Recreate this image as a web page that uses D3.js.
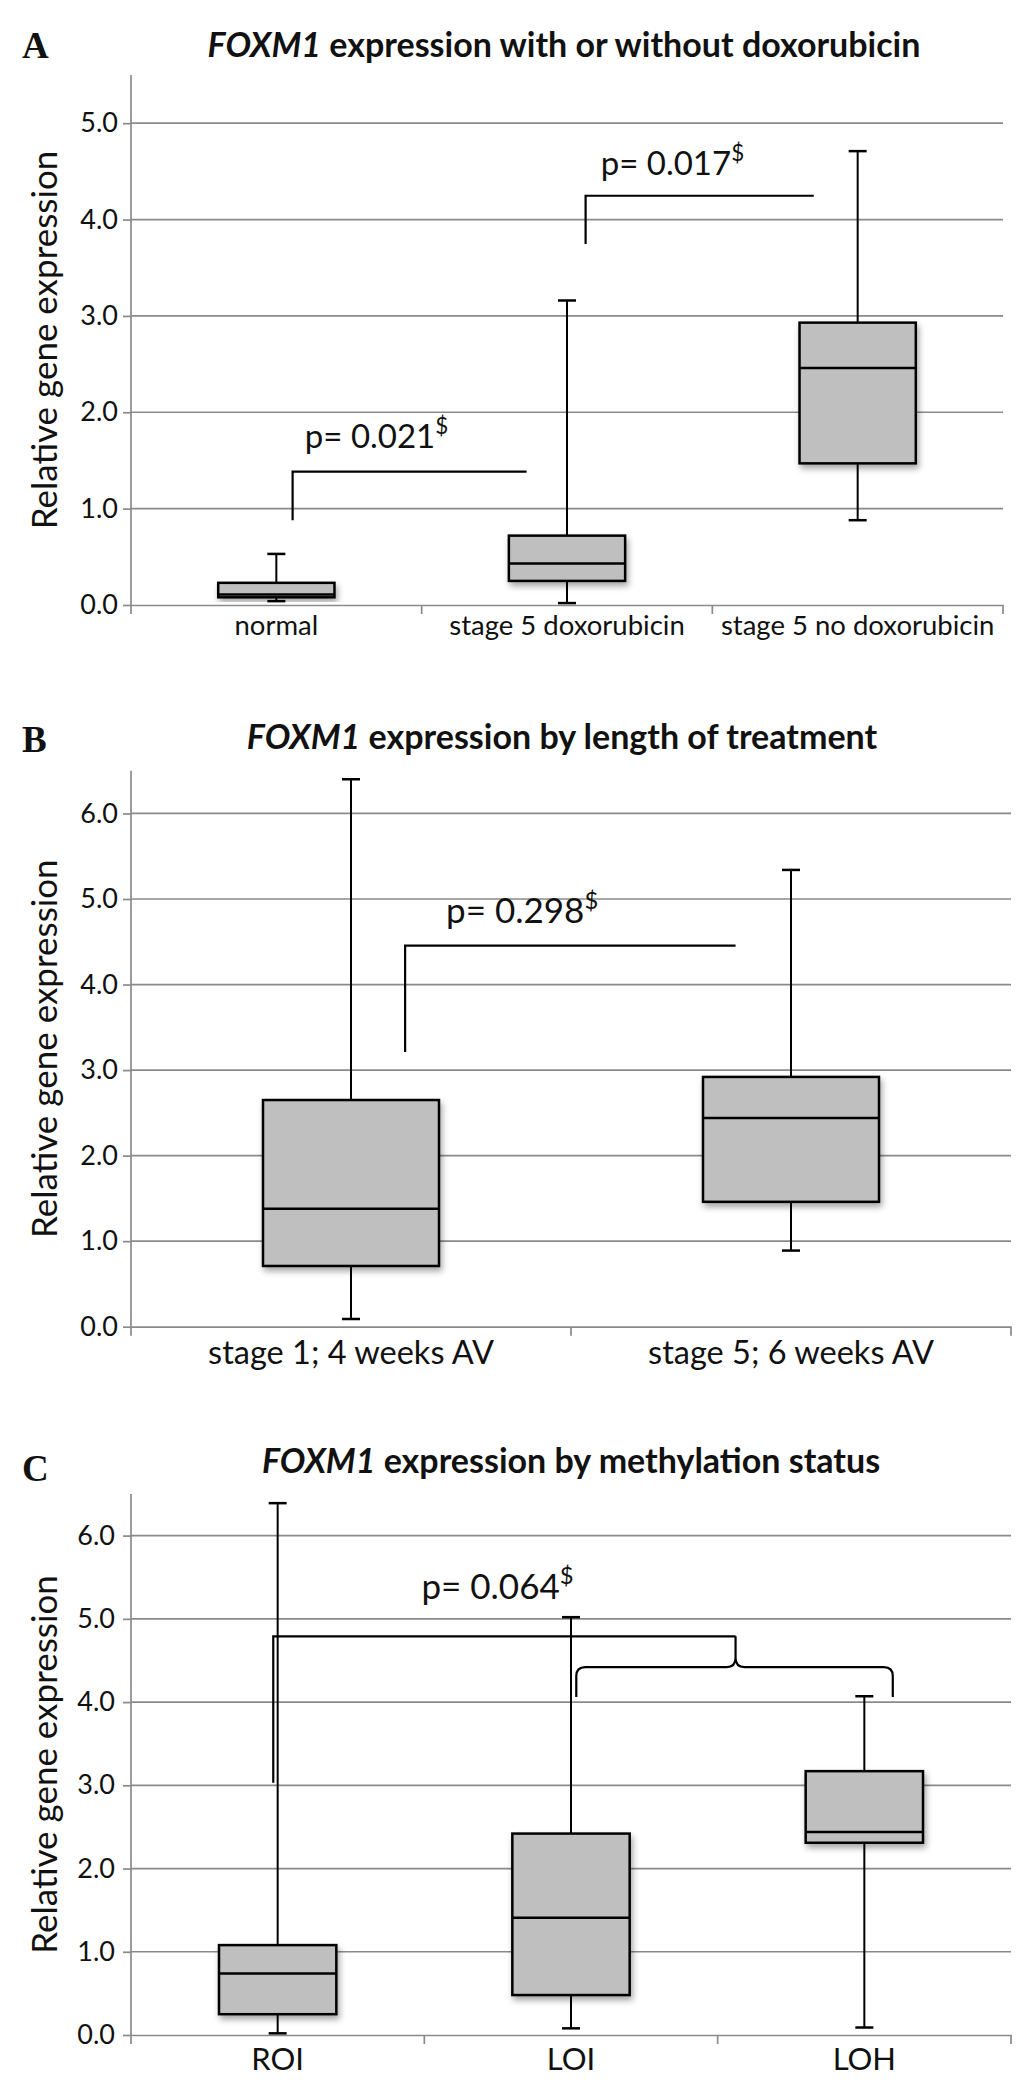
<!DOCTYPE html>
<html>
<head>
<meta charset="utf-8">
<script src="https://cdn.jsdelivr.net/npm/d3@7"></script>
<style>
  body { margin: 0; background: #fff; }
  svg { display: block; }
  text { font-family: Lato, "Open Sans", sans-serif; fill: #111; }
</style>
</head>
<body>
<svg id="chart" width="1033" height="2086"></svg>
<script>
// Panel A: with or without doxorubicin
const catsA = ["normal", "stage 5 doxorubicin", "stage 5 no doxorubicin"];
const minA = [0.04, 0.02, 0.88];
const q1A  = [0.08, 0.25, 1.47];
const medA = [0.11, 0.43, 2.46];
const q3A  = [0.23, 0.72, 2.93];
const maxA = [0.53, 3.16, 4.71];
const ticksA = [0, 1, 2, 3, 4, 5];

// Panel B: length of treatment
const catsB = ["stage 1; 4 weeks AV", "stage 5; 6 weeks AV"];
const minB = [0.09, 0.89];
const q1B  = [0.71, 1.46];
const medB = [1.38, 2.44];
const q3B  = [2.65, 2.92];
const maxB = [6.40, 5.34];
const ticksB = [0, 1, 2, 3, 4, 5, 6];

// Panel C: methylation status
const catsC = ["ROI", "LOI", "LOH"];
const minC = [0.02, 0.08, 0.09];
const q1C  = [0.25, 0.48, 2.31];
const medC = [0.74, 1.41, 2.44];
const q3C  = [1.08, 2.42, 3.17];
const maxC = [6.39, 5.02, 4.07];
const ticksC = [0, 1, 2, 3, 4, 5, 6];

// p-values
const pA = ["0.021", "0.017"];
const pB = ["0.298"];
const pC = ["0.064"];

const svg = d3.select("#chart");
const gridColor = "#8a8a8a";

// soft shadow under the boxes
svg.append("defs").append("filter")
    .attr("id", "shadow")
    .attr("x", "-20%").attr("y", "-20%")
    .attr("width", "150%").attr("height", "150%")
  .append("feDropShadow")
    .attr("dx", 2).attr("dy", 4)
    .attr("stdDeviation", 3)
    .attr("flood-color", "#000")
    .attr("flood-opacity", 0.35);

// Draws one box plot panel, returns scales for the annotations
function drawPanel(opt) {
  const g = svg.append("g");

  const x = d3.scaleBand()
      .domain(opt.cats)
      .range([opt.left, opt.right])
      .padding(0);

  // category units: 0..n across the plot
  const xu = d3.scaleLinear()
      .domain([0, opt.cats.length])
      .range([opt.left, opt.right]);

  const y = d3.scaleLinear()
      .domain([0, opt.ymax])
      .range([opt.bottom, opt.top]);

  // panel letter
  g.append("text")
      .attr("x", 22)
      .attr("y", opt.letterY)
      .style("font-family", "'Liberation Serif', 'Times New Roman', serif")
      .style("font-weight", "bold")
      .style("font-size", "37px")
      .text(opt.letter);

  // title
  const t = g.append("text")
      .attr("x", opt.titleX)
      .attr("y", opt.titleY)
      .attr("text-anchor", "middle")
      .style("font-weight", "bold")
      .style("font-size", "34px");
  t.append("tspan").style("font-style", "italic").text("FOXM1");
  t.append("tspan").text(" " + opt.title);

  // gridlines
  g.append("g")
    .selectAll("line")
    .data(opt.ticks.slice(1))
    .join("line")
      .attr("x1", opt.left)
      .attr("x2", opt.right)
      .attr("y1", d => y(d))
      .attr("y2", d => y(d))
      .attr("stroke", gridColor)
      .attr("stroke-width", 1.7);

  // y axis
  const yAxis = g.append("g")
      .attr("transform", "translate(" + opt.left + ",0)")
      .call(d3.axisLeft(y).tickValues(opt.ticks).tickFormat(d3.format(".1f"))
        .tickSize(8).tickSizeOuter(0).tickPadding(opt.tickPad));
  yAxis.select(".domain").remove();
  yAxis.selectAll(".tick line").attr("stroke", gridColor).attr("stroke-width", 1.7);
  yAxis.selectAll(".tick text")
      .style("font-family", "Lato, sans-serif")
      .style("font-size", "27px")
      .attr("fill", "#111");
  g.append("line")
      .attr("x1", opt.left).attr("x2", opt.left)
      .attr("y1", opt.top).attr("y2", opt.bottom)
      .attr("stroke", gridColor).attr("stroke-width", 1.7);

  // x axis
  const xAxis = g.append("g")
      .attr("transform", "translate(0," + opt.bottom + ")")
      .call(d3.axisBottom(x).tickSize(0).tickSizeOuter(0).tickPadding(0));
  xAxis.select(".domain").attr("stroke", gridColor).attr("stroke-width", 1.7);
  xAxis.selectAll(".tick text")
      .attr("y", opt.labelDy)
      .attr("dy", null)
      .style("font-family", "Lato, sans-serif")
      .style("font-size", opt.labelSize + "px")
      .attr("fill", "#111");

  // boundary ticks between categories
  g.append("g")
    .selectAll("line")
    .data(d3.range(opt.cats.length + 1))
    .join("line")
      .attr("x1", d => xu(d))
      .attr("x2", d => xu(d))
      .attr("y1", opt.bottom)
      .attr("y2", opt.bottom + 9)
      .attr("stroke", gridColor)
      .attr("stroke-width", 1.7);

  // y axis title
  g.append("text")
      .attr("transform", "translate(57," + ((opt.top + opt.bottom) / 2) + ") rotate(-90)")
      .attr("text-anchor", "middle")
      .style("font-size", "35px")
      .text("Relative gene expression");

  // boxes
  const boxW = x.bandwidth() * 0.4;
  const capW = 18;
  const boxes = g.append("g")
    .selectAll("g")
    .data(opt.cats.map((c, i) => ({
      cat: c, min: opt.mins[i], q1: opt.q1s[i], med: opt.meds[i], q3: opt.q3s[i], max: opt.maxs[i]
    })))
    .join("g")
      .attr("transform", d => "translate(" + (x(d.cat) + x.bandwidth() / 2) + ",0)");

  // whiskers
  boxes.append("line")
      .attr("y1", d => y(d.max)).attr("y2", d => y(d.q3))
      .attr("stroke", "#000").attr("stroke-width", 2);
  boxes.append("line")
      .attr("y1", d => y(d.q1)).attr("y2", d => y(d.min))
      .attr("stroke", "#000").attr("stroke-width", 2);
  boxes.append("line")
      .attr("x1", -capW / 2).attr("x2", capW / 2)
      .attr("y1", d => y(d.max)).attr("y2", d => y(d.max))
      .attr("stroke", "#000").attr("stroke-width", 2.5);
  boxes.append("line")
      .attr("x1", -capW / 2).attr("x2", capW / 2)
      .attr("y1", d => y(d.min)).attr("y2", d => y(d.min))
      .attr("stroke", "#000").attr("stroke-width", 2.5);

  // box
  boxes.append("rect")
      .attr("x", -boxW / 2)
      .attr("width", boxW)
      .attr("y", d => y(d.q3))
      .attr("height", d => y(d.q1) - y(d.q3))
      .attr("fill", "#bfbfbf")
      .attr("stroke", "#000")
      .attr("stroke-width", 2.5)
      .attr("filter", "url(#shadow)");

  // median
  boxes.append("line")
      .attr("x1", -boxW / 2).attr("x2", boxW / 2)
      .attr("y1", d => y(d.med)).attr("y2", d => y(d.med))
      .attr("stroke", "#000").attr("stroke-width", 2.5);

  return { g, xu, y };
}

// p-value label with superscript $
function pLabel(p, s, xv, yv, size) {
  const t = p.g.append("text")
      .attr("x", p.xu(xv))
      .attr("y", p.y(yv))
      .style("font-size", size + "px");
  t.append("tspan").text("p= " + s);
  t.append("tspan")
      .attr("dy", -size * 0.42)
      .style("font-size", (size * 0.68) + "px")
      .text("$");
}

// simple bracket: vertical up, then horizontal
function bracket(p, xv1, yv1, ytop, xv2) {
  p.g.append("path")
      .attr("d", "M" + p.xu(xv1) + "," + p.y(yv1) +
                 "V" + p.y(ytop) + "H" + p.xu(xv2))
      .attr("fill", "none")
      .attr("stroke", "#000")
      .attr("stroke-width", 2.2);
}

// ---------- Panel A ----------
const panelA = drawPanel({
  letter: "A", letterY: 58,
  title: "expression with or without doxorubicin", titleX: 564, titleY: 57,
  cats: catsA, mins: minA, q1s: q1A, meds: medA, q3s: q3A, maxs: maxA,
  ticks: ticksA, ymax: 5.5,
  left: 131, right: 1003, top: 75, bottom: 605,
  tickPad: 5, labelDy: 30, labelSize: 27.5
});
bracket(panelA, 0.556, 0.88, 1.385, 1.361);
bracket(panelA, 1.564, 3.745, 4.247, 2.349);
pLabel(panelA, pA[0], 0.598, 1.63, 33);
pLabel(panelA, pA[1], 1.616, 4.465, 33);

// ---------- Panel B ----------
const panelB = drawPanel({
  letter: "B", letterY: 752,
  title: "expression by length of treatment", titleX: 562, titleY: 749,
  cats: catsB, mins: minB, q1s: q1B, meds: medB, q3s: q3B, maxs: maxB,
  ticks: ticksB, ymax: 6.5,
  left: 131, right: 1011, top: 770.7, bottom: 1326.7,
  tickPad: 5, labelDy: 37, labelSize: 32.5
});
bracket(panelB, 0.623, 3.21, 4.454, 1.374);
pLabel(panelB, pB[0], 0.716, 4.715, 35);

// ---------- Panel C ----------
const panelC = drawPanel({
  letter: "C", letterY: 1481,
  title: "expression by methylation status", titleX: 571, titleY: 1473,
  cats: catsC, mins: minC, q1s: q1C, meds: medC, q3s: q3C, maxs: maxC,
  ticks: ticksC, ymax: 6.5,
  left: 131, right: 1011, top: 1494, bottom: 2035,
  tickPad: 8, labelDy: 35, labelSize: 31
});
bracket(panelC, 0.485, 3.03, 4.79, 2.061);

// curly brace grouping LOI and LOH
(function() {
  const p = panelC;
  const r = 9;
  const xl = p.xu(1.518), xr = p.xu(2.597), xt = p.xu(2.061);
  const yl = p.y(4.42), ye = p.y(4.06), yt = p.y(4.79);
  const d = "M" + xl + "," + ye +
            "V" + (yl + r) + "Q" + xl + "," + yl + " " + (xl + r) + "," + yl +
            "H" + (xt - r) + "Q" + xt + "," + yl + " " + xt + "," + (yl - r) +
            "V" + yt +
            "M" + xt + "," + (yl - r) + "Q" + xt + "," + yl + " " + (xt + r) + "," + yl +
            "H" + (xr - r) + "Q" + xr + "," + yl + " " + xr + "," + (yl + r) +
            "V" + ye;
  p.g.append("path")
      .attr("d", d)
      .attr("fill", "none")
      .attr("stroke", "#000")
      .attr("stroke-width", 2.2);
})();
pLabel(panelC, pC[0], 0.99, 5.24, 35);
</script>
</body>
</html>
